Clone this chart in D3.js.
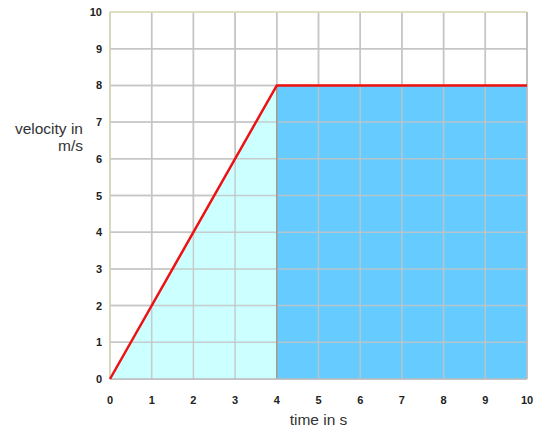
<!DOCTYPE html>
<html><head><meta charset="utf-8">
<script src="https://cdn.jsdelivr.net/npm/d3@7"></script>
<style>body{margin:0;background:#fff;}svg text{font-family:"Liberation Sans",Arial,sans-serif;}</style>
</head><body>
<svg id="c" width="545" height="430"></svg>
<script>
const timeVals = [0, 4, 10];
const velocityVals = [0, 8, 8];
const xTicks = [0,1,2,3,4,5,6,7,8,9,10];
const yTicks = [0,1,2,3,4,5,6,7,8,9,10];
const accelPhase = [[0,0],[4,8],[4,0]];
const constPhase = [[4,0],[4,8],[10,8],[10,0]];

const svg = d3.select("#c");
const x = d3.scaleLinear().domain([0,10]).range([110,527]);
const y = d3.scaleLinear().domain([0,10]).range([379,12]);

// grid
svg.append("g").selectAll("line").data(xTicks).join("line")
  .attr("x1",d=>x(d)).attr("x2",d=>x(d)).attr("y1",y(0)).attr("y2",y(10))
  .attr("stroke","#cccccc").attr("stroke-width",1.5);
svg.append("g").selectAll("line").data(yTicks).join("line")
  .attr("x1",x(0)).attr("x2",x(10)).attr("y1",d=>y(d)).attr("y2",d=>y(d))
  .attr("stroke","#cccccc").attr("stroke-width",1.5);

// areas
const poly = d3.line().x(d=>x(d[0])).y(d=>y(d[1]));
svg.append("path").attr("d",poly(accelPhase)+"Z").attr("fill","#ccffff");
svg.append("path").attr("d",poly(constPhase)+"Z").attr("fill","#66ccff");

// grid over areas
svg.append("g").selectAll("line").data(xTicks.filter(d=>d>0&&d<10)).join("line")
  .attr("x1",d=>x(d)).attr("x2",d=>x(d)).attr("y1",y(0)).attr("y2",y(10))
  .attr("stroke","#c4c4c4").attr("stroke-width",1.5).attr("opacity",0.85);
svg.append("g").selectAll("line").data(yTicks.filter(d=>d>0&&d<10)).join("line")
  .attr("x1",x(0)).attr("x2",x(10)).attr("y1",d=>y(d)).attr("y2",d=>y(d))
  .attr("stroke","#c4c4c4").attr("stroke-width",1.5).attr("opacity",0.85);

// divider at t=4
svg.append("line").attr("x1",x(4)).attr("x2",x(4)).attr("y1",y(0)).attr("y2",y(8))
  .attr("stroke","#999").attr("stroke-width",1.5);

// borders
svg.append("line").attr("x1",x(0)).attr("x2",x(10)).attr("y1",y(10)).attr("y2",y(10)).attr("stroke","#e0e0b8").attr("stroke-width",1.5);
svg.append("line").attr("x1",x(0)).attr("x2",x(0)).attr("y1",y(0)).attr("y2",y(10)).attr("stroke","#d6d6b0").attr("stroke-width",1.5);
svg.append("line").attr("x1",x(10)).attr("x2",x(10)).attr("y1",y(0)).attr("y2",y(10)).attr("stroke","#bbbbbb").attr("stroke-width",1.5);
svg.append("line").attr("x1",x(0)).attr("x2",x(10)).attr("y1",y(0)).attr("y2",y(0)).attr("stroke","#bbbbbb").attr("stroke-width",1.5);

// red line
svg.append("path").datum(d3.zip(timeVals,velocityVals))
  .attr("d",d3.line().x(d=>x(d[0])).y(d=>y(d[1])))
  .attr("fill","none").attr("stroke","#ee1111").attr("stroke-width",2.5).attr("stroke-linejoin","miter");

// tick labels
svg.append("g").selectAll("text").data(xTicks).join("text")
  .attr("x",d=>x(d)).attr("y",404).attr("text-anchor","middle")
  .attr("font-size",11).attr("font-weight","bold").attr("fill","#222").text(d=>d);
svg.append("g").selectAll("text").data(yTicks).join("text")
  .attr("x",102).attr("y",d=>y(d)+4).attr("text-anchor","end")
  .attr("font-size",11).attr("font-weight","bold").attr("fill","#222").text(d=>d);

// axis titles
svg.append("text").attr("x",x(5)).attr("y",425).attr("text-anchor","middle")
  .attr("font-size",15.5).attr("fill","#333").text("time in s");
svg.append("text").attr("x",83).attr("y",134).attr("text-anchor","end")
  .attr("font-size",15.5).attr("fill","#333").text("velocity in");
svg.append("text").attr("x",83).attr("y",151).attr("text-anchor","end")
  .attr("font-size",15.5).attr("fill","#333").text("m/s");
</script>
</body></html>
